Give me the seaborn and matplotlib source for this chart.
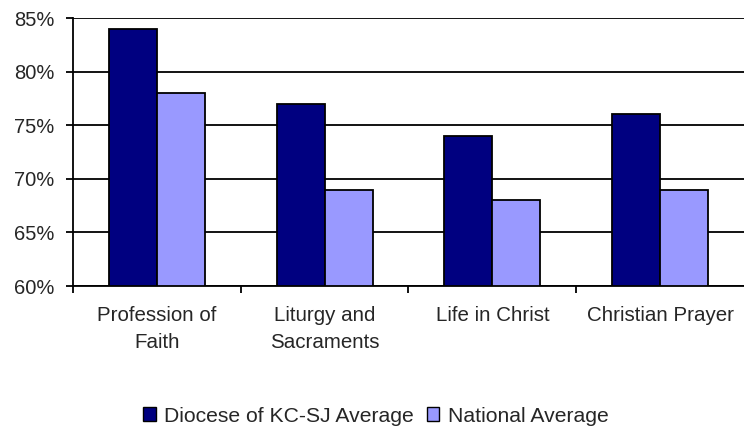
import matplotlib
matplotlib.use("Agg")
import matplotlib.pyplot as plt
import pandas as pd
import seaborn as sns
from matplotlib.ticker import FuncFormatter, FixedLocator

categories = ["Profession of\nFaith", "Liturgy and\nSacraments", "Life in Christ", "Christian Prayer"]
series = ["Diocese of KC-SJ Average", "National Average"]
diocese_vals = [84, 77, 74, 76]
national_vals = [78, 69, 68, 69]
colors = ["#000080", "#9999FF"]

df = pd.DataFrame({
    "category": categories * 2,
    "series": [series[0]] * 4 + [series[1]] * 4,
    "value": diocese_vals + national_vals,
})

sns.set_style("white")
plt.rcParams["font.family"] = ["Liberation Sans", "DejaVu Sans"]

fig = plt.figure(figsize=(7.44, 4.34), dpi=100)
ax = fig.add_axes([0.098, 0.341, 0.902, 0.6175])

sns.barplot(data=df, x="category", y="value", hue="series", palette=colors,
            saturation=1, width=0.572, gap=0, edgecolor="black", linewidth=1.3, ax=ax)

ax.set_ylim(60, 85)
ax.set_xlim(-0.5, 3.5)
ax.set_yticks(range(60, 86, 5))
ax.yaxis.set_major_formatter(FuncFormatter(lambda v, _: f"{v:.0f}%"))
ax.grid(axis="y", color="black", linewidth=1.3)
ax.set_axisbelow(True)
ax.set_xlabel("")
ax.set_ylabel("")

for s in ["top", "right"]:
    ax.spines[s].set_visible(False)
for s in ["left", "bottom"]:
    ax.spines[s].set_color("black")
    ax.spines[s].set_linewidth(1.3)

ax.tick_params(axis="y", left=True, length=5, width=1.3, color="black",
               labelsize=14.5, pad=8.5)
ax.tick_params(axis="x", which="major", bottom=False, length=0, labelsize=14.8, pad=14.5)
for lbl in ax.get_xticklabels():
    lbl.set_linespacing(1.5)
ax.xaxis.set_minor_locator(FixedLocator([-0.5, 0.5, 1.5, 2.5]))
ax.tick_params(axis="x", which="minor", bottom=True, length=5, width=1.3, color="black")

leg = ax.legend(loc="center", bbox_to_anchor=(0.505, 1 - 416 / 434), bbox_transform=fig.transFigure,
                ncol=2, frameon=False, fontsize=15.2, handlelength=0.6, handleheight=0.6,
                handletextpad=0.4, columnspacing=0.6)
for h in leg.legend_handles:
    h.set_edgecolor("black")
    h.set_linewidth(1.0)

fig.savefig("out.png", dpi=100)
